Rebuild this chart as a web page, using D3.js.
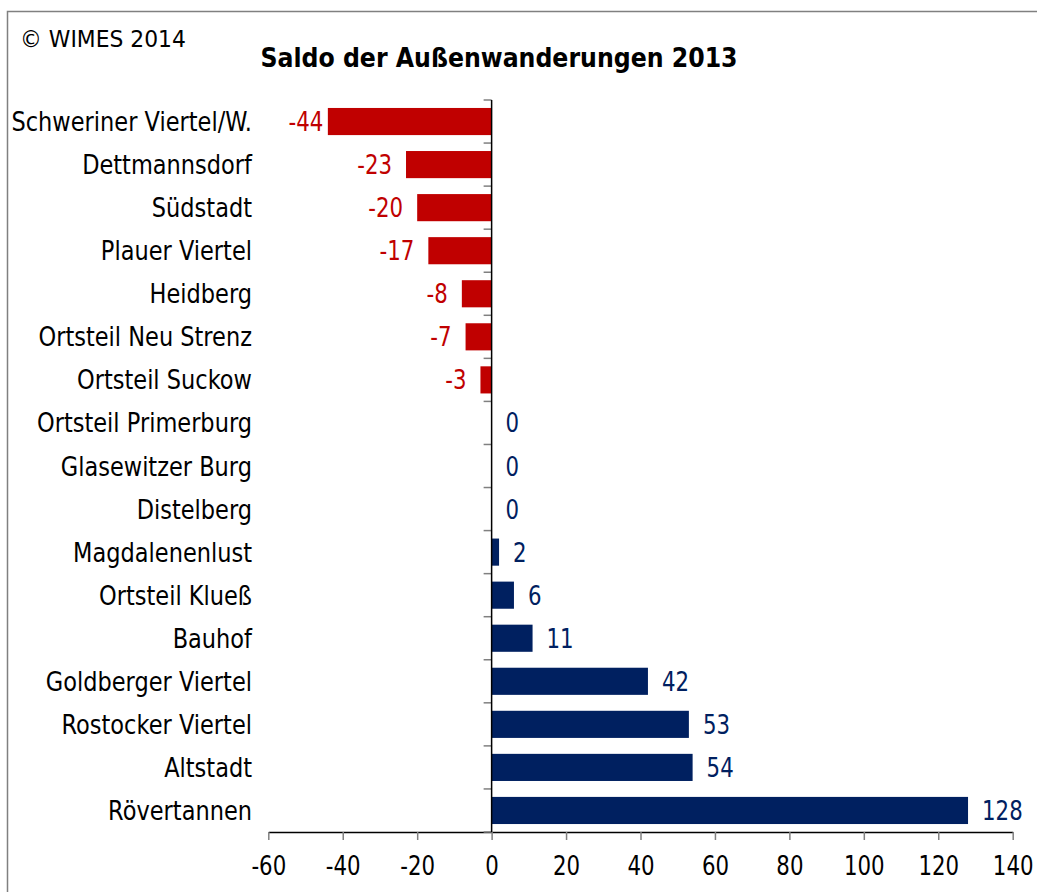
<!DOCTYPE html>
<html>
<head>
<meta charset="utf-8">
<script src="https://cdn.jsdelivr.net/npm/d3@7"></script>
<style>
  body { margin: 0; background: #fff; }
  svg { display: block; font-family: "DejaVu Sans", sans-serif; }
</style>
</head>
<body>
<svg id="chart" width="1037" height="892"></svg>
<script>
// data
const categories = [
    'Schweriner Viertel/W.', 'Dettmannsdorf', 'Südstadt', 'Plauer Viertel', 'Heidberg',
    'Ortsteil Neu Strenz', 'Ortsteil Suckow', 'Ortsteil Primerburg', 'Glasewitzer Burg',
    'Distelberg', 'Magdalenenlust', 'Ortsteil Klueß', 'Bauhof', 'Goldberger Viertel',
    'Rostocker Viertel', 'Altstadt', 'Rövertannen'
];
const values = [-44, -23, -20, -17, -8, -7, -3, 0, 0, 0, 2, 6, 11, 42, 53, 54, 128];
const xTicks = [-60, -40, -20, 0, 20, 40, 60, 80, 100, 120, 140];
const title = 'Saldo der Außenwanderungen 2013';
const credit = '© WIMES 2014';

const RED  = '#c00000';
const NAVY = '#002060';

const svg = d3.select('#chart');
const W = 1037, H = 892;

// frame (only left and top edges are visible)
svg.append('rect')
    .attr('x', 7.5).attr('y', 11.5)
    .attr('width', W + 20).attr('height', H + 20)
    .attr('fill', 'none').attr('stroke', '#808080').attr('stroke-width', 1.5);

const x = d3.scaleLinear().domain([-60, 140]).range([268.3, 1012.7]);
const y = d3.scaleBand().domain(categories).range([100, 832])
    .paddingInner(0.37).paddingOuter(0.185);
const step = y.step();

// text squeezed horizontally to get close to Tahoma proportions
const put = (sel, tx, ty, k) => sel.attr('transform', `translate(${tx},${ty}) scale(${k},1)`);

// title + credit
svg.append('text').text(credit)
    .attr('font-size', 23.5).attr('fill', '#000')
    .call(put, 20, 47, 0.93);

svg.append('text').text(title)
    .attr('font-size', 26).attr('font-weight', 'bold').attr('text-anchor', 'middle')
    .call(put, 499, 67, 0.91);

// bars
const rows = categories.map((c, i) => ({ cat: c, v: values[i] }));

svg.append('g').selectAll('rect')
    .data(rows.filter(d => d.v !== 0))
    .join('rect')
    .attr('x', d => x(Math.min(0, d.v)))
    .attr('y', d => y(d.cat))
    .attr('width', d => Math.abs(x(d.v) - x(0)))
    .attr('height', y.bandwidth())
    .attr('fill', d => d.v < 0 ? RED : NAVY);

// category labels
const mid = d => y(d.cat) + y.bandwidth() / 2;

svg.append('g').selectAll('text')
    .data(rows)
    .join('text')
    .text(d => d.cat)
    .attr('font-size', 26).attr('text-anchor', 'end').attr('fill', '#000')
    .each(function (d) { d3.select(this).call(put, 252, mid(d) + 9.5, 0.865); });

// value labels
const minLabelEnd = x(-60) + 55;
svg.append('g').selectAll('text')
    .data(rows)
    .join('text')
    .text(d => d.v)
    .attr('font-size', 26)
    .attr('text-anchor', d => d.v < 0 ? 'end' : 'start')
    .attr('fill', d => d.v < 0 ? RED : NAVY)
    .each(function (d) {
        const tx = d.v < 0 ? Math.max(x(d.v) - 14, minLabelEnd) : x(d.v) + 14;
        d3.select(this).call(put, tx, mid(d) + 9.5, 0.82);
    });

// x axis
const xAxis = svg.append('g')
    .attr('transform', `translate(0,${y.range()[1]})`)
    .call(d3.axisBottom(x).tickValues(xTicks).tickSize(8).tickSizeOuter(0).tickPadding(16).tickFormat(d => String(d)));
xAxis.select('.domain').attr('stroke', '#000').attr('stroke-width', 1.5);
xAxis.selectAll('.tick line').attr('stroke', '#808080').attr('stroke-width', 1.5);
xAxis.selectAll('.tick text')
    .attr('font-size', 26).attr('font-family', '"DejaVu Sans", sans-serif').attr('fill', '#000')
    .attr('dy', '0.72em')
    .attr('transform', 'scale(0.82,1)');

// y axis: ticks at band boundaries, line at zero
const bounds = categories.map(c => y(c) - step * y.paddingInner() / 2).concat([y.range()[1]]);
svg.append('g').selectAll('line')
    .data(bounds)
    .join('line')
    .attr('x1', x(0) - 8).attr('x2', x(0))
    .attr('y1', d => d).attr('y2', d => d)
    .attr('stroke', '#808080').attr('stroke-width', 1.5);

svg.append('line')
    .attr('x1', x(0)).attr('x2', x(0))
    .attr('y1', y.range()[0]).attr('y2', y.range()[1])
    .attr('stroke', '#000').attr('stroke-width', 1.5);
</script>
</body>
</html>
